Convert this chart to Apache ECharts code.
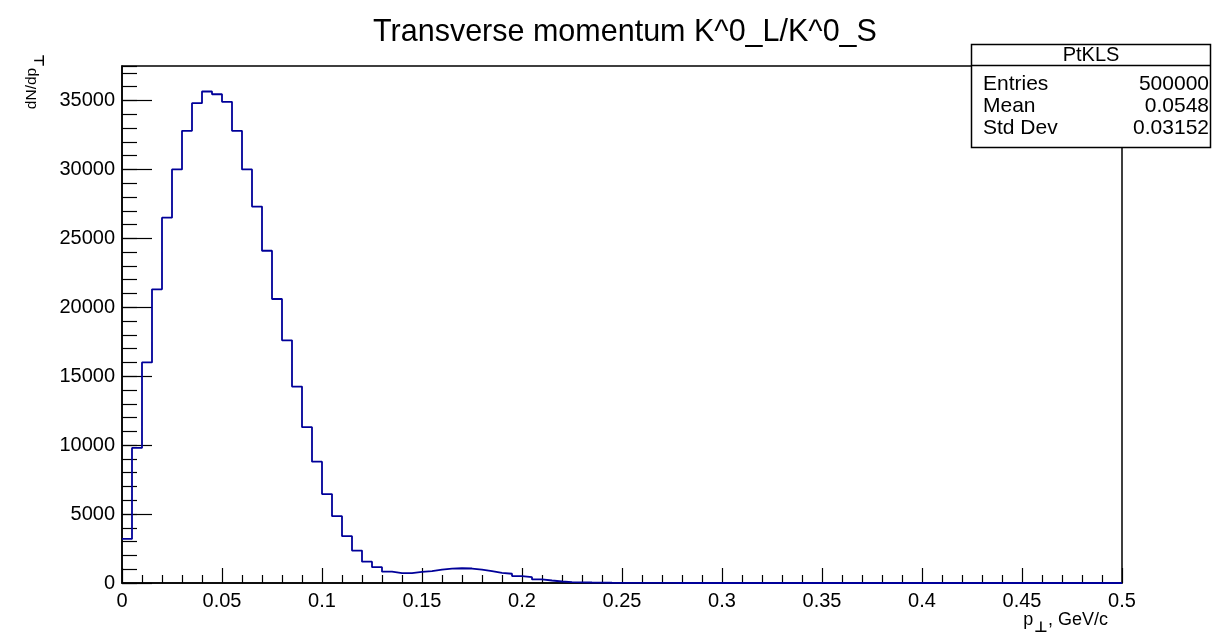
<!DOCTYPE html>
<html>
<head>
<meta charset="utf-8">
<script src="https://cdn.jsdelivr.net/npm/echarts@6/dist/echarts.min.js"></script>
<style>
html,body{margin:0;padding:0;background:#fff;}
#chart{width:1225px;height:639px;}
</style>
</head>
<body>
<div id="chart"></div>
<script>
// ---- data ----
const xMin = 0;
const xMax = 0.5;
const binWidth = 0.005;
const counts = [
  3200, 9800, 16000, 21300, 26500, 30000, 32800, 34800, 35650, 35450,
  34900, 32800, 30000, 27300, 24100, 20600, 17600, 14250, 11300, 8800,
  6450, 4850, 3400, 2350, 1550, 1150, 820, 710, 720, 810,
  860, 970, 1040, 1070, 1050, 970, 860, 740, 670, 500,
  420, 260, 180, 110, 70, 50, 35, 25, 18, 12,
  9, 6, 4, 3, 2, 1, 1, 0, 0, 0,
  0, 0, 0, 0, 0, 0, 0, 0, 0, 0,
  0, 0, 0, 0, 0, 0, 0, 0, 0, 0,
  0, 0, 0, 0, 0, 0, 0, 0, 0, 0,
  0, 0, 0, 0, 0, 0, 0, 0, 0, 0
];
const yMax = 37500;
const titleText = 'Transverse momentum K^0_L/K^0_S';
const statsName = 'PtKLS';
const statsLabels = ['Entries', 'Mean', 'Std Dev'];
const statsValues = ['500000', '0.0548', '0.03152'];

// ---- build step data ----
const stepData = counts.map((c, i) => [xMin + i * binWidth, c]);
stepData.push([xMax, counts[counts.length - 1]]);

const FONT = "'Liberation Sans', Arial, Helvetica, sans-serif";
const chart = echarts.init(document.getElementById('chart'), null, {renderer: 'canvas'});

const statsRowsY = [84, 106.5, 128.5];
const statsGraphics = [
  {type: 'rect', shape: {x: 971.5, y: 44.5, width: 239, height: 103}, style: {fill: '#fff', stroke: '#000', lineWidth: 1.5}, z: 100},
  {type: 'line', shape: {x1: 971.5, y1: 65.5, x2: 1210.5, y2: 65.5}, style: {stroke: '#000', lineWidth: 1.5}, z: 101},
  {type: 'text', x: 1091, y: 55.5, z: 102, style: {text: statsName, font: '20px ' + FONT, fill: '#000', align: 'center', verticalAlign: 'middle'}}
];
statsLabels.forEach((lab, i) => {
  statsGraphics.push({type: 'text', x: 983, y: statsRowsY[i], z: 102, style: {text: lab, font: '21px ' + FONT, fill: '#000', align: 'left', verticalAlign: 'middle'}});
  statsGraphics.push({type: 'text', x: 1209, y: statsRowsY[i], z: 102, style: {text: statsValues[i], font: '21px ' + FONT, fill: '#000', align: 'right', verticalAlign: 'middle'}});
});

const option = {
  backgroundColor: '#fff',
  animation: false,
  grid: {left: 122, right: 103, top: 66, bottom: 56, show: true, borderColor: '#000', borderWidth: 1.5, backgroundColor: 'transparent'},
  xAxis: {
    type: 'value', min: xMin, max: xMax, interval: 0.05,
    axisLine: {show: true, onZero: false, lineStyle: {color: '#000', width: 1.5}},
    axisTick: {show: true, inside: true, length: 15, lineStyle: {color: '#000', width: 1.2}},
    minorTick: {show: true, splitNumber: 5, length: 8, lineStyle: {color: '#000', width: 1.2}},
    axisLabel: {color: '#000', fontSize: 20, fontFamily: FONT, margin: 8},
    splitLine: {show: false}, minorSplitLine: {show: false}
  },
  yAxis: [
    {
      type: 'value', min: 0, max: yMax, interval: 5000, position: 'left',
      axisLine: {show: true, lineStyle: {color: '#000', width: 1.5}},
      axisTick: {show: true, inside: true, length: 30, lineStyle: {color: '#000', width: 1.2}},
      axisLabel: {color: '#000', fontSize: 20, fontFamily: FONT, margin: 7, showMaxLabel: false,
        formatter: v => String(Math.round(v))},
      splitLine: {show: false}
    },
    {
      type: 'value', min: 0, max: yMax, interval: 1000, position: 'left', offset: 0,
      axisLine: {show: false},
      axisTick: {show: true, inside: true, length: 15, lineStyle: {color: '#000', width: 1.2}},
      axisLabel: {show: false},
      splitLine: {show: false}
    }
  ],
  series: [{
    type: 'line', step: 'end', data: stepData, yAxisIndex: 0,
    symbol: 'none', lineStyle: {color: '#000099', width: 1.8}, z: 5
  }],
  graphic: [
    {type: 'text', x: 625, y: 33, style: {text: titleText, font: '30.5px ' + FONT, fill: '#000', align: 'center', verticalAlign: 'middle'}},
    {type: 'text', x: 1108, y: 621, style: {
      text: '{a|p}{b|⊥}{a|, GeV/c}', align: 'right', verticalAlign: 'middle',
      rich: {
        a: {fontSize: 18, fontFamily: FONT, fill: '#000', verticalAlign: 'top', lineHeight: 20},
        b: {fontSize: 15, fontWeight: 'bold', fontFamily: 'DejaVu Sans', fill: '#000', verticalAlign: 'top', lineHeight: 16, padding: [10, 0, 0, 1]}
      }
    }},
    {type: 'text', x: 33, y: 54, rotation: Math.PI / 2, style: {
      text: '{a|dN/dp}{b|⊥}', align: 'right', verticalAlign: 'middle',
      rich: {
        a: {fontSize: 15.5, fontFamily: FONT, fill: '#000', verticalAlign: 'top', lineHeight: 18},
        b: {fontSize: 14, fontWeight: 'bold', fontFamily: 'DejaVu Sans', fill: '#000', verticalAlign: 'top', lineHeight: 15, padding: [9, 0, 0, 1]}
      }
    }}
  ].concat(statsGraphics)
};
chart.setOption(option);
</script>
</body>
</html>
